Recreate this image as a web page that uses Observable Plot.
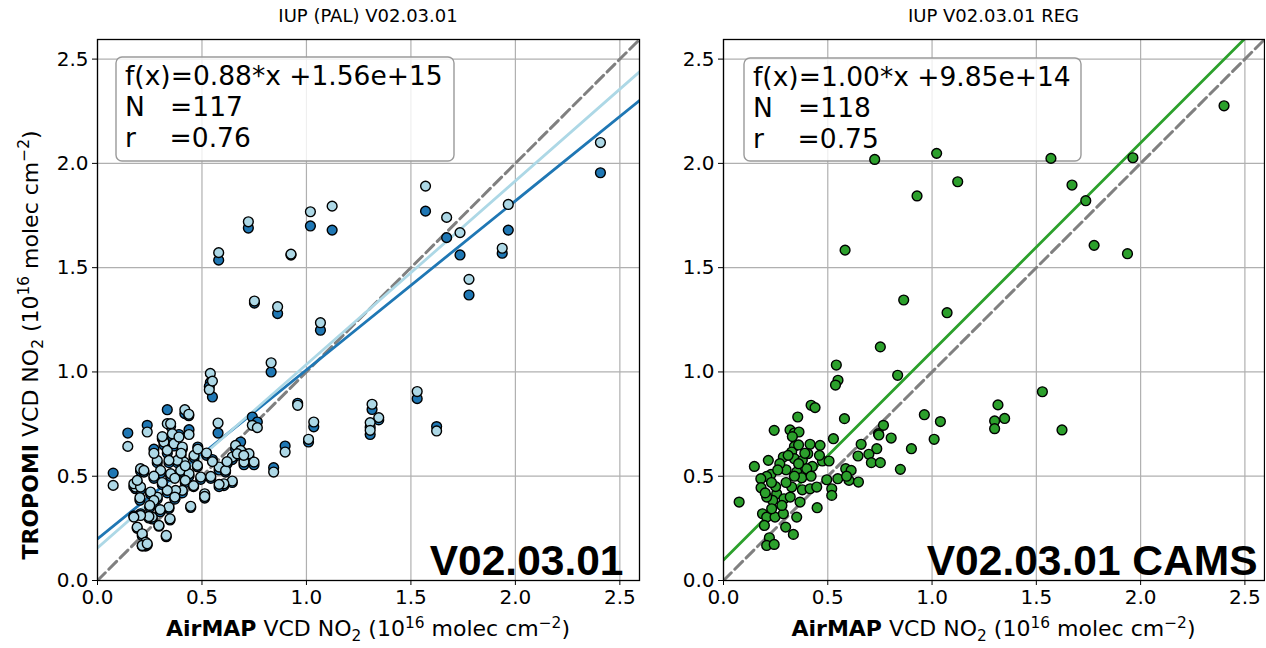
<!DOCTYPE html>
<html><head><meta charset="utf-8">
<script src="https://cdn.jsdelivr.net/npm/d3@7"></script>
<script src="https://cdn.jsdelivr.net/npm/@observablehq/plot@0.6"></script>
<style>
body{margin:0;background:#fff;}
#wrap{position:relative;width:1266px;height:648px;overflow:hidden;font-family:"DejaVu Sans",sans-serif;color:#000;}
#wrap svg{position:absolute;top:0;background:transparent;}
.title{position:absolute;top:5px;font-size:18px;text-align:center;white-space:nowrap;}
.xlab{position:absolute;top:616px;font-size:22px;text-align:center;white-space:nowrap;}
.ylab{position:absolute;font-size:22px;white-space:nowrap;transform:translate(-50%,-50%) rotate(-90deg);}
sub,sup{font-size:0.7em;line-height:0;}
</style>
</head><body>
<div id="wrap"></div>
<script>
// ---- data (values in 1e16 molec cm^-2) ----
const tickValues = [0, 0.5, 1.0, 1.5, 2.0, 2.5];
const axisMax = 2.594;

// Left panel: AirMAP x, TROPOMI dark-blue y, TROPOMI light-blue y
const palX = [0.722,0.580,0.926,1.019,1.123,0.751,0.862,1.570,1.671,1.735,1.966,1.937,1.778,2.407,1.067,0.831,0.540,0.535,0.550,0.958,1.035,1.010,0.898,0.843,1.530,1.623,1.314,1.346,1.305,1.305,0.741,0.765,0.577,0.661,0.685,0.725,0.645,0.701,0.749,0.669,0.522,0.582,0.613,0.645,0.605,0.582,0.513,0.513,0.446,0.334,0.418,0.437,0.438,0.238,0.145,0.075,0.358,0.318,0.334,0.366,0.406,0.462,0.478,0.414,0.382,0.342,0.286,0.206,0.222,0.302,0.350,0.398,0.438,0.494,0.542,0.406,0.374,0.334,0.286,0.254,0.203,0.182,0.174,0.206,0.270,0.342,0.347,0.294,0.329,0.262,0.246,0.206,0.174,0.190,0.214,0.230,0.214,0.238,0.350,0.390,0.270,0.190,0.310,0.420,0.460,0.370,0.300,0.250,0.400,0.480,0.550,0.620,0.700,0.310,0.270,0.420,0.370];
const palDarkY = [1.690,1.536,1.560,1.700,1.680,1.330,1.280,1.771,1.644,1.561,1.680,1.569,1.369,1.955,1.200,1.000,0.950,0.930,0.880,0.850,0.737,0.664,0.645,0.541,0.872,0.738,0.820,0.770,0.735,0.700,0.784,0.760,0.707,0.630,0.664,0.590,0.580,0.555,0.555,0.600,0.600,0.530,0.520,0.470,0.455,0.450,0.410,0.395,0.350,0.819,0.800,0.790,0.723,0.744,0.707,0.515,0.690,0.650,0.610,0.645,0.630,0.590,0.545,0.560,0.565,0.565,0.565,0.525,0.520,0.515,0.500,0.520,0.500,0.485,0.490,0.420,0.425,0.420,0.390,0.415,0.385,0.440,0.450,0.435,0.375,0.345,0.290,0.260,0.210,0.295,0.300,0.320,0.310,0.250,0.215,0.165,0.165,0.170,0.740,0.700,0.490,0.470,0.460,0.470,0.450,0.390,0.330,0.350,0.600,0.640,0.580,0.560,0.610,0.680,0.630,0.540,0.500];
const palLightY = [1.720,1.572,1.565,1.768,1.795,1.340,1.313,1.891,1.741,1.668,1.803,1.593,1.444,2.100,1.236,1.044,0.993,0.915,0.956,0.840,0.760,0.677,0.616,0.520,0.906,0.717,0.845,0.781,0.757,0.720,0.744,0.733,0.755,0.648,0.624,0.608,0.592,0.568,0.568,0.608,0.611,0.544,0.528,0.477,0.464,0.461,0.416,0.403,0.356,0.752,0.819,0.797,0.700,0.712,0.643,0.456,0.704,0.664,0.624,0.656,0.640,0.600,0.552,0.568,0.576,0.576,0.576,0.536,0.528,0.528,0.512,0.528,0.512,0.496,0.499,0.432,0.432,0.432,0.400,0.424,0.397,0.448,0.464,0.448,0.384,0.352,0.296,0.264,0.216,0.304,0.307,0.312,0.304,0.256,0.224,0.184,0.168,0.176,0.752,0.688,0.500,0.480,0.470,0.480,0.455,0.400,0.340,0.360,0.610,0.630,0.570,0.570,0.600,0.690,0.610,0.550,0.490];

// Right panel: AirMAP x, TROPOMI (CAMS) y
const regX = [0.420,0.439,0.356,0.580,0.243,0.319,0.340,0.362,0.527,0.660,0.735,0.743,0.767,0.340,0.415,0.463,0.404,0.327,0.287,0.340,0.378,0.426,0.474,0.506,0.148,0.215,0.300,0.351,0.399,0.228,0.207,0.179,0.180,0.375,0.327,0.378,0.415,0.447,0.495,0.548,0.586,0.612,0.602,0.647,0.519,0.519,0.449,0.367,0.255,0.290,0.236,0.207,0.187,0.207,0.247,0.287,0.231,0.075,0.196,0.298,0.351,0.335,0.220,0.207,0.243,0.725,1.022,1.123,0.928,0.583,0.864,1.072,1.570,1.963,1.671,1.737,1.777,1.937,2.400,1.529,1.623,1.316,1.348,1.300,1.300,0.752,0.541,0.549,0.537,0.835,0.963,1.040,1.010,0.901,0.848,0.745,0.804,0.697,0.709,0.752,0.645,0.330,0.310,0.360,0.270,0.390,0.300,0.250,0.420,0.340,0.280,0.230,0.360,0.460,0.200,0.320,0.590,0.260];
const regY = [0.840,0.829,0.784,0.776,0.720,0.722,0.707,0.712,0.680,0.653,0.632,0.704,0.744,0.643,0.653,0.648,0.608,0.616,0.592,0.584,0.576,0.547,0.573,0.573,0.547,0.576,0.531,0.520,0.536,0.509,0.499,0.488,0.445,0.493,0.448,0.435,0.440,0.448,0.483,0.488,0.536,0.528,0.480,0.472,0.440,0.408,0.349,0.376,0.416,0.392,0.384,0.400,0.320,0.304,0.304,0.320,0.344,0.376,0.264,0.256,0.304,0.221,0.205,0.168,0.173,2.019,2.048,1.912,1.844,1.584,1.345,1.284,2.024,2.027,1.896,1.821,1.607,1.567,2.276,0.905,0.722,0.842,0.777,0.765,0.728,1.120,1.033,0.960,0.937,0.984,0.795,0.762,0.677,0.632,0.533,0.698,0.683,0.605,0.565,0.565,0.597,0.690,0.600,0.560,0.560,0.610,0.470,0.450,0.500,0.500,0.360,0.470,0.650,0.600,0.420,0.400,0.500,0.530];

// Regression lines [slope, intercept]
const palDarkFit = [0.81, 0.20];
const palLightFit = [0.88, 0.156];
const regFit = [1.00, 0.0985];

// Annotation texts
const palBoxText = ["f(x)=0.88*x +1.56e+15", "N   =117", "r    =0.76"];
const regBoxText = ["f(x)=1.00*x +9.85e+14", "N   =118", "r    =0.75"];
const panelTitles = ["IUP (PAL) V02.03.01", "IUP V02.03.01 REG"];
const panelTags = ["V02.03.01", "V02.03.01 CAMS"];

// ---- helpers ----
const lineData = ([a, b]) => [0, axisMax].map(x => ({x, y: a * x + b}));
const diag = [0, axisMax].map(v => ({x: v, y: v}));

function boxMark(lines, offX, offY, w, h) {
  return (index, scales, values, dims) => {
    const g = d3.create("svg:g");
    const x0 = dims.marginLeft + offX, y0 = dims.marginTop + offY;
    g.append("rect").attr("x", x0).attr("y", y0).attr("width", w).attr("height", h)
      .attr("rx", 6).attr("fill", "white").attr("fill-opacity", 0.8)
      .attr("stroke", "#9a9a9a").attr("stroke-width", 1.4);
    lines.forEach((t, i) => {
      g.append("text").attr("x", x0 + 9).attr("y", y0 + 28 + i * 31)
        .attr("font-size", 26.5).attr("font-family", "DejaVu Sans")
        .attr("text-anchor", "start").attr("fill", "black")
        .attr("xml:space", "preserve").style("white-space", "pre").text(t);
    });
    return g.node();
  };
}

function panel({width, marginLeft, marginRight, dotLayers, fits, box, tag, tagDx}) {
  return Plot.plot({
    width, height: 648, marginLeft, marginRight, marginTop: 39, marginBottom: 68,
    style: {fontFamily: "DejaVu Sans", fontSize: "20px", color: "#000", background: "transparent"},
    x: {domain: [0, axisMax], label: null},
    y: {domain: [0, axisMax], label: null},
    marks: [
      Plot.gridX(tickValues, {stroke: "#b0b0b0", strokeOpacity: 1, strokeWidth: 1.2}),
      Plot.gridY(tickValues, {stroke: "#b0b0b0", strokeOpacity: 1, strokeWidth: 1.2}),
      Plot.line(diag, {x: "x", y: "y", stroke: "#808080", strokeWidth: 3, strokeDasharray: "11,5", clip: true}),
      ...fits.map(f => Plot.line(lineData(f.fit), {x: "x", y: "y", stroke: f.color, strokeWidth: 2.8, clip: true})),
      boxMark(...box),
      ...dotLayers.map(d => Plot.dot(d.x.map((x, i) => ({x, y: d.y[i]})), {x: "x", y: "y", r: 4.9, fill: d.color, fillOpacity: 1, stroke: "black", strokeWidth: 1.4})),
      Plot.text([tag], {frameAnchor: "bottom-right", text: d => d, dx: tagDx, dy: -6, lineAnchor: "bottom", textAnchor: "end", fontSize: 42.5, fontWeight: "bold", fontFamily: "Liberation Sans", fill: "black"}),
      Plot.frame({stroke: "black", strokeWidth: 1.3}),
      Plot.axisX({ticks: tickValues, tickFormat: d3.format(".1f"), tickSize: 5, tickPadding: 4, label: null, fontSize: 20}),
      Plot.axisY({ticks: tickValues, tickFormat: d3.format(".1f"), tickSize: 5, tickPadding: 4, label: null, fontSize: 20})
    ]
  });
}

const wrap = document.getElementById("wrap");

const left = panel({
  width: 660, marginLeft: 97, marginRight: 21,
  dotLayers: [{x: palX, y: palDarkY, color: "#1f77b4"}, {x: palX, y: palLightY, color: "#add8e6"}],
  fits: [{fit: palDarkFit, color: "#1f77b4"}, {fit: palLightFit, color: "#add8e6"}],
  box: [palBoxText, 19, 18, 338, 104],
  tag: panelTags[0], tagDx: -16
});
left.style.left = "0px";
wrap.appendChild(left);

const right = panel({
  width: 605, marginLeft: 63, marginRight: 1,
  dotLayers: [{x: regX, y: regY, color: "#2ca02c"}],
  fits: [{fit: regFit, color: "#2ca02c"}],
  box: [regBoxText, 21, 19, 337, 103],
  tag: panelTags[1], tagDx: -7
});
right.style.left = "660px";
wrap.appendChild(right);

function addDiv(cls, html, styles) {
  const d = document.createElement("div");
  d.className = cls; d.innerHTML = html;
  Object.assign(d.style, styles);
  wrap.appendChild(d);
}
addDiv("title", panelTitles[0], {left: "97px", width: "542px"});
addDiv("title", panelTitles[1], {left: "723px", width: "541px"});
const xl = '<b>AirMAP</b> VCD NO<sub>2</sub> (10<sup>16</sup> molec cm<sup>\u22122</sup>)';
addDiv("xlab", xl, {left: "97px", width: "542px"});
addDiv("xlab", xl, {left: "723px", width: "541px"});
addDiv("ylab", '<b>TROPOMI</b> VCD NO<sub>2</sub> (10<sup>16</sup> molec cm<sup>\u22122</sup>)', {left: "30px", top: "345px"});
</script>
</body></html>
